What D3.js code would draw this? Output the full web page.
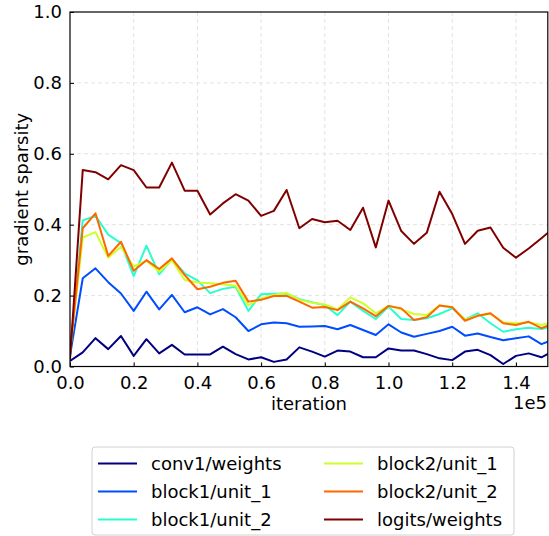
<!doctype html>
<html lang="en">
  <head>
    <meta charset="UTF-8" />
    <title>Gradient Sparsity</title>
    <style>
      body {
        margin: 0;
        background: #fff;
      }
      svg {
        display: block;
        font-family: "DejaVu Sans", sans-serif;
      }
      .grid line {
        stroke: #e3e3e3;
        stroke-dasharray: 4 3;
      }
    </style>
  </head>
  <body>
    <svg id="chart" width="549" height="536"></svg>

    <script src="https://d3js.org/d3.v7.min.js"></script>
    <script>
      // iterations (every 4000 steps, last one falls past the axis limit)
      const iterations = [
        0, 4000, 8000, 12000, 16000, 20000, 24000, 28000, 32000, 36000, 40000,
        44000, 48000, 52000, 56000, 60000, 64000, 68000, 72000, 76000, 80000,
        84000, 88000, 92000, 96000, 100000, 104000, 108000, 112000, 116000,
        120000, 124000, 128000, 132000, 136000, 140000, 144000, 148000, 152000,
      ];

      const seriesNames = [
        "conv1/weights",
        "block1/unit_1",
        "block1/unit_2",
        "block2/unit_1",
        "block2/unit_2",
        "logits/weights",
      ];

      const conv1 = [
        0.016, 0.04, 0.08, 0.049, 0.086, 0.03, 0.077, 0.037, 0.061, 0.034, 0.034,
        0.034, 0.056, 0.035, 0.02, 0.026, 0.013, 0.02, 0.054, 0.042, 0.028, 0.045,
        0.042, 0.026, 0.026, 0.051, 0.045, 0.045, 0.035, 0.023, 0.018, 0.042,
        0.047, 0.032, 0.007, 0.03, 0.037, 0.026, 0.044,
      ];
      const block1Unit1 = [
        0.03, 0.249, 0.277, 0.238, 0.206, 0.157, 0.211, 0.161, 0.202, 0.153,
        0.167, 0.147, 0.162, 0.139, 0.1, 0.119, 0.124, 0.122, 0.112, 0.113, 0.114,
        0.105, 0.117, 0.103, 0.089, 0.119, 0.096, 0.084, 0.092, 0.1, 0.112, 0.087,
        0.093, 0.083, 0.074, 0.08, 0.085, 0.063, 0.077,
      ];
      const block1Unit2 = [
        0.04, 0.412, 0.425, 0.372, 0.348, 0.255, 0.341, 0.26, 0.303, 0.263, 0.243,
        0.207, 0.219, 0.225, 0.157, 0.204, 0.205, 0.206, 0.19, 0.181, 0.173, 0.145,
        0.183, 0.157, 0.134, 0.169, 0.134, 0.131, 0.136, 0.148, 0.164, 0.133,
        0.15, 0.122, 0.098, 0.105, 0.109, 0.106, 0.114,
      ];
      const block2Unit1 = [
        0.04, 0.364, 0.379, 0.307, 0.338, 0.282, 0.298, 0.267, 0.3, 0.244, 0.237,
        0.235, 0.232, 0.228, 0.173, 0.192, 0.202, 0.208, 0.188, 0.18, 0.175,
        0.161, 0.195, 0.178, 0.15, 0.171, 0.161, 0.148, 0.145, 0.172, 0.167,
        0.133, 0.143, 0.148, 0.125, 0.122, 0.125, 0.117, 0.126,
      ];
      const block2Unit2 = [
        0.04, 0.39, 0.432, 0.312, 0.352, 0.27, 0.3, 0.275, 0.305, 0.258, 0.218,
        0.225, 0.236, 0.242, 0.183, 0.188, 0.199, 0.199, 0.183, 0.166, 0.168,
        0.159, 0.183, 0.164, 0.142, 0.171, 0.164, 0.131, 0.139, 0.172, 0.167,
        0.129, 0.143, 0.15, 0.122, 0.117, 0.126, 0.108, 0.122,
      ];
      const logits = [
        0.02, 0.554, 0.548, 0.528, 0.568, 0.554, 0.505, 0.505, 0.575, 0.496,
        0.496, 0.429, 0.46, 0.486, 0.468, 0.425, 0.439, 0.498, 0.39, 0.416, 0.407,
        0.411, 0.385, 0.448, 0.336, 0.468, 0.382, 0.346, 0.377, 0.493, 0.43,
        0.346, 0.383, 0.392, 0.335, 0.307, 0.333, 0.362, 0.392,
      ];

      const seriesValues = [
        conv1,
        block1Unit1,
        block1Unit2,
        block2Unit1,
        block2Unit2,
        logits,
      ];

      const xTicks = [0, 20000, 40000, 60000, 80000, 100000, 120000, 140000];
      const yTicks = [0, 0.2, 0.4, 0.6, 0.8, 1.0];

      // jet colormap sampled at 6 evenly spaced points
      const colors = ["#000080", "#004cff", "#29ffce", "#ceff29", "#ff6800", "#800000"];

      const svg = d3.select("#chart");
      const plot = { left: 70, right: 547.8, top: 12, bottom: 366.5 };

      const x = d3.scaleLinear().domain([0, 150000]).range([plot.left, plot.right]);
      const y = d3.scaleLinear().domain([0, 1]).range([plot.bottom, plot.top]);

      // grid
      svg
        .append("g")
        .attr("class", "grid")
        .selectAll("line")
        .data(xTicks.slice(1))
        .join("line")
        .attr("x1", (d) => x(d))
        .attr("x2", (d) => x(d))
        .attr("y1", plot.top)
        .attr("y2", plot.bottom);

      svg
        .append("g")
        .attr("class", "grid")
        .selectAll("line")
        .data(yTicks.slice(1, -1))
        .join("line")
        .attr("x1", plot.left)
        .attr("x2", plot.right)
        .attr("y1", (d) => y(d))
        .attr("y2", (d) => y(d));

      svg
        .append("clipPath")
        .attr("id", "plotClip")
        .append("rect")
        .attr("x", plot.left)
        .attr("y", plot.top)
        .attr("width", plot.right - plot.left)
        .attr("height", plot.bottom - plot.top);

      const line = d3
        .line()
        .x((d, i) => x(iterations[i]))
        .y((d) => y(d));

      svg
        .append("g")
        .attr("clip-path", "url(#plotClip)")
        .selectAll("path")
        .data(seriesValues)
        .join("path")
        .attr("fill", "none")
        .attr("stroke", (d, i) => colors[i])
        .attr("stroke-width", 2)
        .attr("stroke-linejoin", "round")
        .attr("d", line);

      // axes, ticks pointing inward
      const xAxis = d3
        .axisBottom(x)
        .tickValues(xTicks)
        .tickSizeInner(-4)
        .tickSizeOuter(0)
        .tickPadding(10)
        .tickFormat((d) => (d / 100000).toFixed(1));

      const yAxis = d3
        .axisLeft(y)
        .tickValues(yTicks)
        .tickSizeInner(-4)
        .tickSizeOuter(0)
        .tickPadding(8)
        .tickFormat(d3.format(".1f"));

      svg
        .append("g")
        .attr("transform", `translate(0,${plot.bottom})`)
        .call(xAxis)
        .call((g) => g.select(".domain").remove())
        .selectAll("text")
        .attr("font-size", 18)
        .attr("font-family", "DejaVu Sans")
        .attr("fill", "#000");

      svg
        .append("g")
        .attr("transform", `translate(${plot.left},0)`)
        .call(yAxis)
        .call((g) => g.select(".domain").remove())
        .selectAll("text")
        .attr("font-size", 18)
        .attr("font-family", "DejaVu Sans")
        .attr("fill", "#000");

      svg
        .append("rect")
        .attr("x", plot.left)
        .attr("y", plot.top)
        .attr("width", plot.right - plot.left)
        .attr("height", plot.bottom - plot.top)
        .attr("fill", "none")
        .attr("stroke", "#000")
        .attr("stroke-width", 1.2);

      svg
        .append("text")
        .attr("x", (plot.left + plot.right) / 2)
        .attr("y", 410)
        .attr("text-anchor", "middle")
        .attr("font-size", 18)
        .text("iteration");

      svg
        .append("text")
        .attr("x", 547)
        .attr("y", 409)
        .attr("text-anchor", "end")
        .attr("font-size", 18)
        .text("1e5");

      svg
        .append("text")
        .attr("transform", `translate(28,${(plot.top + plot.bottom) / 2}) rotate(-90)`)
        .attr("text-anchor", "middle")
        .attr("font-size", 18)
        .text("gradient sparsity");

      // legend
      const legend = svg.append("g");
      legend
        .append("rect")
        .attr("x", 92)
        .attr("y", 447)
        .attr("width", 422)
        .attr("height", 88)
        .attr("rx", 3)
        .attr("fill", "#fff")
        .attr("stroke", "#d0d0d0");

      const item = legend
        .selectAll("g.item")
        .data(seriesNames)
        .join("g")
        .attr("class", "item")
        .attr("transform", (d, i) => {
          const col = Math.floor(i / 3);
          const row = i % 3;
          return `translate(${98 + col * 226},${463.5 + row * 28})`;
        });

      item
        .append("line")
        .attr("x1", 0)
        .attr("x2", 39)
        .attr("stroke", (d, i) => colors[i])
        .attr("stroke-width", 2);

      item
        .append("text")
        .attr("x", 53)
        .attr("dy", "0.35em")
        .attr("font-size", 18)
        .text((d) => d);
    </script>
  </body>
</html>
